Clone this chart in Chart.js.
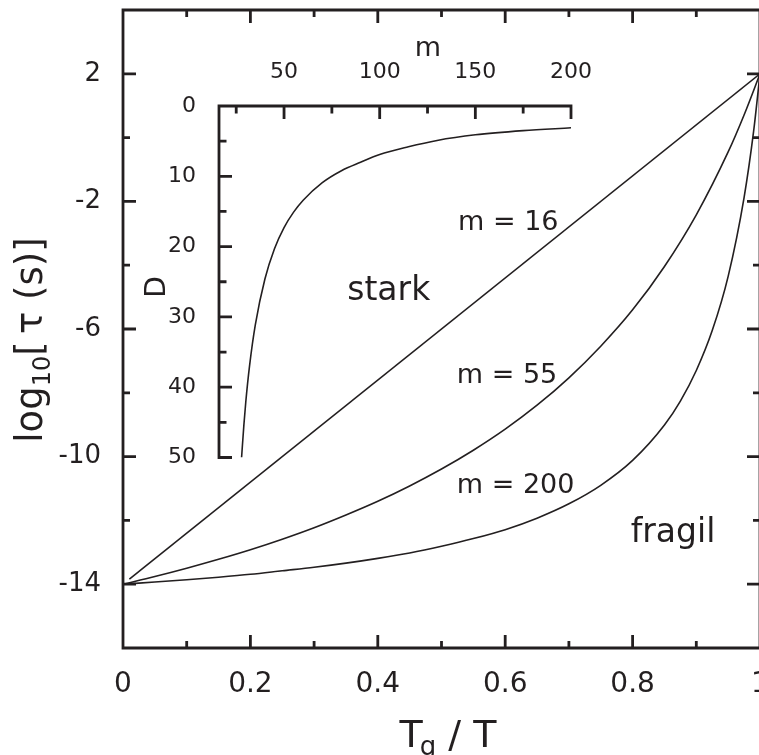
<!DOCTYPE html>
<html>
<head>
<meta charset="utf-8">
<script src="https://cdn.jsdelivr.net/npm/chart.js@4.4.1/dist/chart.umd.min.js"></script>
<style>
  html, body { margin: 0; padding: 0; background: #fff; overflow: hidden; }
  #wrap { position: relative; width: 790px; height: 755px; }
  #wrap canvas { position: absolute; left: 0; top: 0; }
</style>
</head>
<body>
<div id="wrap">
  <canvas id="mainChart" width="790" height="755"></canvas>
  <canvas id="insetChart" width="790" height="755"></canvas>
</div>
<script>
// === main plot: log10 tau vs Tg/T ===
const xTickVals = [0, 0.1, 0.2, 0.3, 0.4, 0.5, 0.6, 0.7, 0.8, 0.9, 1];
const xTickLabels = ['0', '', '0.2', '', '0.4', '', '0.6', '', '0.8', '', '1'];
const yTickVals = [-16, -14, -12, -10, -8, -6, -4, -2, 0, 2, 4];
const yTickLabels = ['', '-14', '', '-10', '', '-6', '', '-2', '', '2', ''];

// m = 16 (straight line)
const strongX = [0.01, 1];
const strongY = [-13.84, 2];
// m = 55
const midX = [0, 0.05, 0.1, 0.15, 0.2, 0.25, 0.3, 0.35, 0.4, 0.45, 0.5, 0.55, 0.6, 0.65, 0.7, 0.75, 0.8, 0.85, 0.9, 0.95, 0.975, 1];
const midY = [-14, -13.76, -13.5, -13.22, -12.92, -12.59, -12.23, -11.83, -11.4, -10.92, -10.39, -9.8, -9.14, -8.39, -7.53, -6.54, -5.4, -4.04, -2.42, -0.45, 0.71, 2];
// m = 200
const fragX = [0, 0.05, 0.1, 0.15, 0.2, 0.25, 0.3, 0.35, 0.4, 0.45, 0.5, 0.55, 0.6, 0.65, 0.7, 0.75, 0.8, 0.85, 0.875, 0.9, 0.925, 0.95, 0.975, 0.99, 1];
const fragY = [-14, -13.93, -13.86, -13.78, -13.69, -13.58, -13.47, -13.34, -13.19, -13.02, -12.81, -12.57, -12.29, -11.93, -11.48, -10.9, -10.12, -9.01, -8.26, -7.3, -6.05, -4.35, -1.88, 0.2, 2];

// === inset: D vs m ===
const mTickVals = [25, 50, 75, 100, 125, 150, 175, 200];
const mTickLabels = ['', '50', '', '100', '', '150', '', '200'];
const dTickVals = [0, 5, 10, 15, 20, 25, 30, 35, 40, 45, 50];
const dTickLabels = ['0', '', '10', '', '20', '', '30', '', '40', '', '50'];
const insetM = [27.8, 29, 30, 32, 35, 40, 45, 50, 55, 60, 70, 80, 90, 100, 115, 130, 150, 175, 200];
const insetD = [50, 45.4, 42.1, 36.9, 31.1, 24.6, 20.3, 17.3, 15.1, 13.4, 10.9, 9.2, 8.0, 6.9, 5.8, 4.9, 4.1, 3.5, 3.1];

// text labels inside the main plot (data coords)
const notes = [
    { text: 'm = 16', x: 0.526, y: -2.9, size: 27 },
    { text: 'stark', x: 0.352, y: -5.09, size: 33 },
    { text: 'm = 55', x: 0.524, y: -7.69, size: 27 },
    { text: 'm = 200', x: 0.524, y: -11.14, size: 27 },
    { text: 'fragil', x: 0.797, y: -12.68, size: 33 }
];

const ink = '#231f20';
const family = '"DejaVu Sans", "Liberation Sans", Arial, sans-serif';

const pts = (xs, ys) => xs.map((x, i) => ({ x: x, y: ys[i] }));

function drawRuns(ctx, runs, cx, cy, angle) {
    ctx.save();
    ctx.translate(cx, cy);
    ctx.rotate(angle);
    ctx.fillStyle = ink;
    ctx.textAlign = 'left';
    ctx.textBaseline = 'alphabetic';
    let total = 0;
    runs.forEach(r => {
        ctx.font = r.size + 'px ' + family;
        r.w = ctx.measureText(r.t).width + (r.dx || 0);
        total += r.w;
    });
    let x = -total / 2;
    runs.forEach(r => {
        ctx.font = r.size + 'px ' + family;
        ctx.fillText(r.t, x + (r.dx || 0), r.dy || 0);
        x += r.w;
    });
    ctx.restore();
}

// frame + inward tick marks
const framePlugin = {
    id: 'frame',
    afterDraw(chart, args, opts) {
        const { ctx, chartArea: a, scales } = chart;
        const sides = opts.sides;
        const w = opts.lineWidth;
        ctx.save();
        ctx.strokeStyle = ink;
        ctx.lineWidth = w;
        ctx.beginPath();
        if (sides.includes('top')) { ctx.moveTo(a.left - w / 2, a.top); ctx.lineTo(a.right + w / 2, a.top); }
        if (sides.includes('bottom')) { ctx.moveTo(a.left - w / 2, a.bottom); ctx.lineTo(a.right + w / 2, a.bottom); }
        if (sides.includes('left')) { ctx.moveTo(a.left, a.top - w / 2); ctx.lineTo(a.left, a.bottom + w / 2); }
        if (sides.includes('right')) { ctx.moveTo(a.right, a.top - w / 2); ctx.lineTo(a.right, a.bottom + w / 2); }

        const xs = scales.x, ys = scales.y;
        xs.ticks.forEach(t => {
            const px = xs.getPixelForValue(t.value);
            const len = t.label !== '' ? opts.major : opts.minor;
            if (sides.includes('bottom')) { ctx.moveTo(px, a.bottom); ctx.lineTo(px, a.bottom - len); }
            if (sides.includes('top')) { ctx.moveTo(px, a.top); ctx.lineTo(px, a.top + len); }
        });
        ys.ticks.forEach(t => {
            const py = ys.getPixelForValue(t.value);
            const len = t.label !== '' ? opts.major : opts.minor;
            if (sides.includes('left')) { ctx.moveTo(a.left, py); ctx.lineTo(a.left + len, py); }
            if (sides.includes('right')) { ctx.moveTo(a.right, py); ctx.lineTo(a.right - len, py); }
        });
        ctx.stroke();
        ctx.restore();
    }
};

// annotations and axis titles
const textPlugin = {
    id: 'texts',
    afterDraw(chart, args, opts) {
        const ctx = chart.ctx;
        (opts.notes || []).forEach(n => {
            ctx.save();
            ctx.fillStyle = ink;
            ctx.font = n.size + 'px ' + family;
            ctx.textAlign = 'left';
            ctx.textBaseline = 'alphabetic';
            ctx.fillText(n.text, chart.scales.x.getPixelForValue(n.x), chart.scales.y.getPixelForValue(n.y));
            ctx.restore();
        });
        (opts.titles || []).forEach(tt => drawRuns(ctx, tt.runs, tt.x, tt.y, tt.angle));
    }
};

const tickFont = size => ({ family: family, size: size });

// === main chart ===
new Chart(document.getElementById('mainChart'), {
    type: 'line',
    data: {
        datasets: [
            { data: pts(strongX, strongY), tension: 0 },
            { data: pts(midX, midY), cubicInterpolationMode: 'monotone' },
            { data: pts(fragX, fragY), cubicInterpolationMode: 'monotone' }
        ].map(d => Object.assign({
            borderColor: ink, borderWidth: 1.6, pointRadius: 0, fill: false
        }, d))
    },
    options: {
        responsive: false,
        animation: false,
        devicePixelRatio: 1,
        layout: { padding: { top: 10, right: 30, left: 0, bottom: 0 } },
        plugins: {
            legend: { display: false },
            tooltip: { enabled: false },
            frame: { sides: ['top', 'bottom', 'left', 'right'], lineWidth: 2.8, major: 13, minor: 7 },
            texts: {
                notes: notes,
                titles: [
                    { x: 42, y: 340, angle: -Math.PI / 2, runs: [
                        { t: 'log', size: 37 },
                        { t: '10', size: 24, dy: 8 },
                        { t: '[\u2009\u03c4 (s)]', size: 37 }
                    ] },
                    { x: 448, y: 747, angle: 0, runs: [
                        { t: 'T', size: 38 },
                        { t: 'g', size: 26, dy: 8, dx: -3 },
                        { t: ' / T', size: 38 }
                    ] }
                ]
            }
        },
        scales: {
            x: {
                type: 'linear', min: 0, max: 1,
                grid: { display: false }, border: { display: false },
                ticks: { autoSkip: false, maxRotation: 0, padding: 12, color: ink, font: tickFont(28),
                    callback: (v, i) => xTickLabels[i] },
                afterBuildTicks: s => { s.ticks = xTickVals.map(v => ({ value: v })); },
                afterFit: s => { s.height = 107; s.paddingLeft = 0; s.paddingRight = 0; }
            },
            y: {
                type: 'linear', min: -16, max: 4,
                grid: { display: false }, border: { display: false },
                ticks: { autoSkip: false, padding: 14, color: ink, font: tickFont(26),
                    callback: (v, i) => yTickLabels[i] },
                afterBuildTicks: s => { s.ticks = yTickVals.map(v => ({ value: v })); },
                afterFit: s => { s.width = 123; s.paddingTop = 0; s.paddingBottom = 0; }
            }
        }
    },
    plugins: [framePlugin, textPlugin]
});

// === inset chart ===
new Chart(document.getElementById('insetChart'), {
    type: 'line',
    data: {
        datasets: [{
            data: pts(insetM, insetD), cubicInterpolationMode: 'monotone',
            borderColor: ink, borderWidth: 1.6, pointRadius: 0, fill: false
        }]
    },
    options: {
        responsive: false,
        animation: false,
        devicePixelRatio: 1,
        layout: { padding: { top: 0, right: 219, left: 0, bottom: 297.5 } },
        plugins: {
            legend: { display: false },
            tooltip: { enabled: false },
            frame: { sides: ['top', 'left'], lineWidth: 2.8, major: 13, minor: 7.5 },
            texts: {
                titles: [
                    { x: 428, y: 56, angle: 0, runs: [{ t: 'm', size: 27 }] },
                    { x: 165, y: 287, angle: -Math.PI / 2, runs: [{ t: 'D', size: 28 }] }
                ]
            }
        },
        scales: {
            x: {
                type: 'linear', position: 'top', min: 16, max: 200,
                grid: { display: false }, border: { display: false },
                ticks: { autoSkip: false, maxRotation: 0, padding: 13, color: ink, font: tickFont(22),
                    callback: (v, i) => mTickLabels[i] },
                afterBuildTicks: s => { s.ticks = mTickVals.map(v => ({ value: v })); },
                afterFit: s => { s.height = 106; s.paddingLeft = 0; s.paddingRight = 0; }
            },
            y: {
                type: 'linear', reverse: true, min: 0, max: 50,
                grid: { display: false }, border: { display: false },
                ticks: { autoSkip: false, padding: 15, color: ink, font: tickFont(22),
                    callback: (v, i) => dTickLabels[i] },
                afterBuildTicks: s => { s.ticks = dTickVals.map(v => ({ value: v })); },
                afterFit: s => { s.width = 219; s.paddingTop = 0; s.paddingBottom = 0; }
            }
        }
    },
    plugins: [framePlugin, textPlugin]
});
</script>
</body>
</html>
